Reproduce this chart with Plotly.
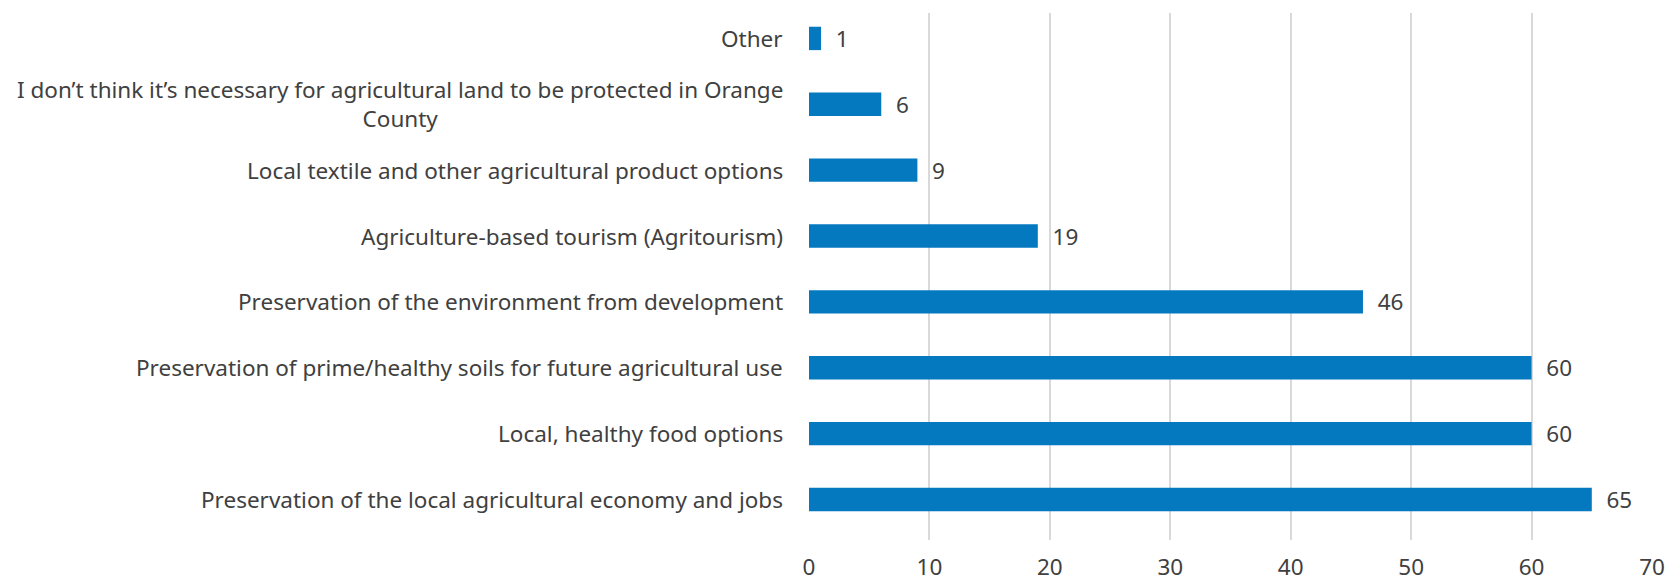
import plotly.graph_objects as go

categories = [
    "Preservation of the local agricultural economy and jobs",
    "Local, healthy food options",
    "Preservation of prime/healthy soils for future agricultural use",
    "Preservation of the environment from development",
    "Agriculture-based tourism (Agritourism)",
    "Local textile and other agricultural product options",
    "I don’t think it’s necessary for agricultural land to be protected in Orange<br>County",
    "Other",
]
values = [65, 60, 60, 46, 19, 9, 6, 1]
x_ticks = [0, 10, 20, 30, 40, 50, 60, 70]

FONT = "Noto Sans"
FS = 22.5
TXT = "#404040"
BAR = "#0479C0"

fig = go.Figure()
fig.add_trace(go.Bar(
    y=categories, x=values, orientation="h",
    marker=dict(color=BAR, line=dict(width=0)),
    width=0.355,
    text=["\u00a0\u00a0" + str(v) for v in values], textposition="outside",
    textfont=dict(family=FONT, size=FS, color=TXT),
    cliponaxis=False,
))

for c in categories:
    fig.add_annotation(
        x=0, xref="paper", xanchor="right", xshift=-24,
        y=c, yref="y", yanchor="middle",
        text=c, showarrow=False, align="center",
        font=dict(family=FONT, size=FS, color=TXT),
    )

d = 0.114
fig.update_layout(
    width=1673, height=579,
    margin=dict(l=801, r=29, t=5, b=47, autoexpand=False),
    paper_bgcolor="white", plot_bgcolor="white",
    showlegend=False,
    uniformtext=dict(minsize=FS, mode="show"),
)
fig.update_xaxes(
    range=[0, 70], tickvals=x_ticks, showgrid=True, gridcolor="#D9D9D9", gridwidth=1.5,
    zeroline=False, showline=False, ticks="", ticklabelstandoff=11, automargin=False,
    tickfont=dict(family=FONT, size=FS, color=TXT),
)
fig.update_yaxes(showticklabels=False, showgrid=False, zeroline=False, showline=False,
                 categoryorder="array", categoryarray=categories, automargin=False,
                 range=[-0.5 - d, 7.5 - d])

fig.write_html("out.html")
